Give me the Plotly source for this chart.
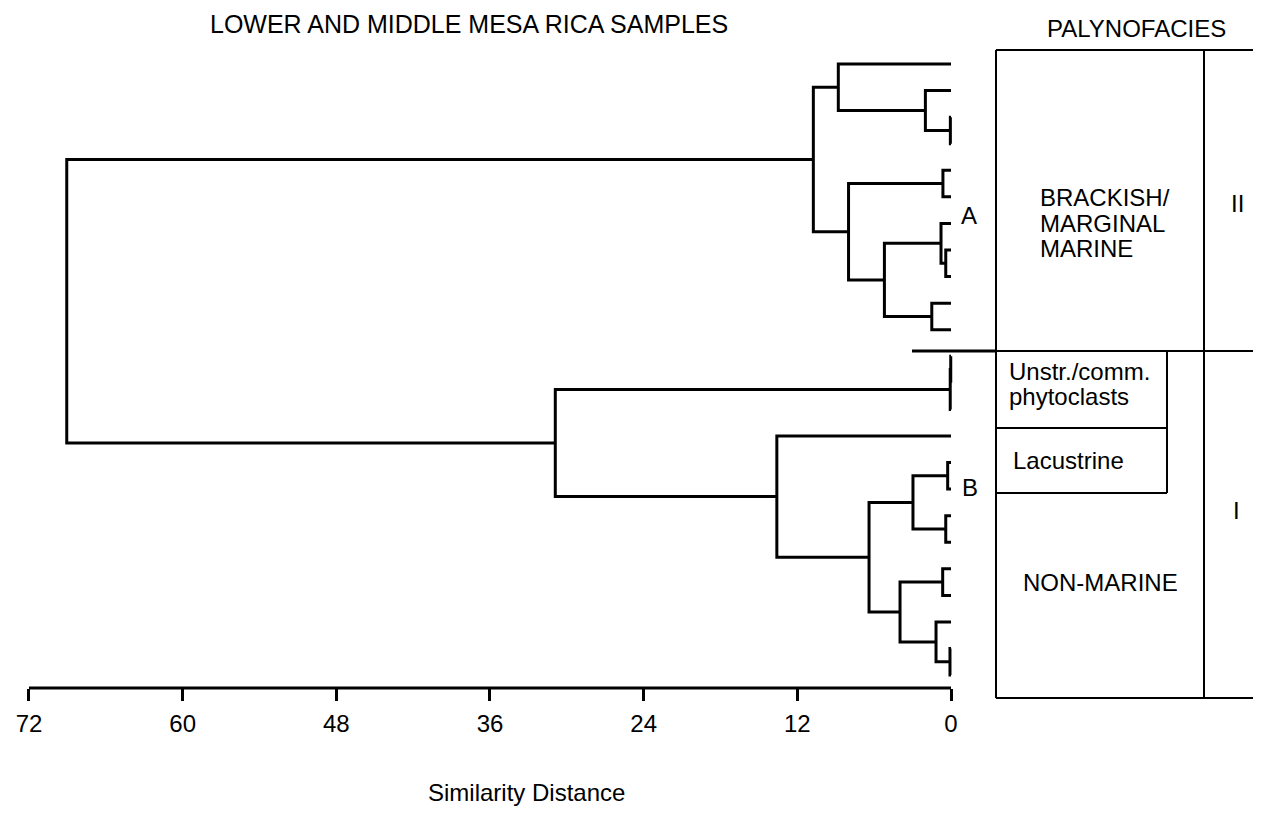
import plotly.graph_objects as go

# ---------------- data ----------------
# leaves of the dendrogram, top to bottom
samples = [f"MR-{i + 1:02d}" for i in range(24)]

# agglomeration steps (children: "L<i>" = leaf i, "M<k>" = k-th merge), height = similarity distance
merge_left = ["L2", "L1", "L0", "L4", "L7", "L6", "L9", "M6", "M4", "M3",
              "L11", "M11", "L15", "L17", "M13", "L19", "L22", "L21", "M16", "M15",
              "L14", "M12", "M10"]
merge_right = ["L3", "M1", "M2", "L5", "L8", "M5", "L10", "M7", "M8", "M9",
               "L12", "L13", "L16", "L18", "M14", "L20", "L23", "M17", "M18", "M19",
               "M20", "M21", "M22"]
merge_height = [0.05, 2.0, 8.8, 0.63, 0.41, 0.78, 1.5, 5.2, 8.0, 10.75,
                0.02, 0.06, 0.26, 0.41, 2.97, 0.65, 0.08, 1.17, 3.98, 6.4,
                13.6, 30.9, 69.05]

tick_values = [72, 60, 48, 36, 24, 12, 0]
cluster_labels = ["A", "B"]
facies_names = [["BRACKISH/", "MARGINAL", "MARINE"],
                ["Unstr./comm.", "phytoclasts"],
                ["Lacustrine"],
                ["NON-MARINE"]]
facies_classes = ["II", "I"]

# ---------------- geometry ----------------
OFF = 8                                       # page body margin of the html
W, H = 1261, 816 - OFF
X0_PX, PX_PER_UNIT = 951.0 - OFF, 12.806      # pixel of distance 0, pixels per unit
Y0_PX, PX_PER_LEAF = 64.0 - OFF, 26.57        # pixel of first leaf, pixels per leaf
AXIS_PX = 688.0 - OFF
FONT = "Liberation Sans, Arial, sans-serif"

x_range = [X0_PX / PX_PER_UNIT, (X0_PX - W) / PX_PER_UNIT]
y_range = [(H - Y0_PX) / PX_PER_LEAF, -Y0_PX / PX_PER_LEAF]


def px(x, y):
    """reference-image pixel -> paper fraction"""
    return (x - OFF) / W, 1 - (y - OFF) / H


# ---------------- dendrogram ----------------
pos = {f"L{i}": (float(i), 0.0) for i in range(len(samples))}
xs, ys = [], []
for k, (a, b, h) in enumerate(zip(merge_left, merge_right, merge_height)):
    ya, ha = pos[a]
    yb, hb = pos[b]
    xs += [ha, h, h, hb, None]
    ys += [ya, ya, yb, yb, None]
    pos[f"M{k + 1}"] = ((ya + yb) / 2, h)

fig = go.Figure()
fig.add_trace(go.Scatter(x=xs, y=ys, mode="lines",
                         line=dict(color="black", width=3),
                         hoverinfo="skip", showlegend=False))

# ---------------- shapes ----------------
shapes = []


def seg(x0, y0, x1, y1, w=2):
    a0, b0 = px(x0, y0)
    a1, b1 = px(x1, y1)
    shapes.append(dict(type="line", xref="paper", yref="paper",
                       x0=a0, y0=b0, x1=a1, y1=b1,
                       line=dict(color="black", width=w)))


# axis baseline on the data scale
shapes.append(dict(type="line", xref="x", yref="paper",
                   x0=tick_values[0], x1=tick_values[-1],
                   y0=1 - AXIS_PX / H, y1=1 - AXIS_PX / H,
                   line=dict(color="black", width=3)))

# palynofacies panel
seg(996, 50, 996, 698)
seg(1204, 50, 1204, 698)
seg(996, 50, 1269, 50)
seg(996, 698, 1269, 698)
seg(912, 351, 996, 351, 3)
seg(996, 351, 1269, 351)
seg(1167, 351, 1167, 493)
seg(996, 428, 1167, 428)
seg(996, 493, 1167, 493)

# ---------------- annotations ----------------
ann = []


def text(t, x, y, size=24, xanchor="center"):
    a, b = px(x, y)
    ann.append(dict(text=t, x=a, y=b, xref="paper", yref="paper",
                    xanchor=xanchor, yanchor="middle", showarrow=False,
                    font=dict(family=FONT, size=size, color="black")))


text("LOWER AND MIDDLE MESA RICA SAMPLES", 469, 24, size=25)
text("PALYNOFACIES", 1136, 28)
text("Similarity Distance", 526, 792)

for lab, (x, y) in zip(cluster_labels, [(969, 215), (970, 487)]):
    text(lab, x, y)

facies_pos = [(1038, [197, 223, 249]), (1007, [372, 396]), (1011, [460]), (1021, [582])]
for lines, (x, ylist) in zip(facies_names, facies_pos):
    for t, y in zip(lines, ylist):
        text(t, x, y, xanchor="left")

for lab, (x, y) in zip(facies_classes, [(1237, 203), (1236, 510)]):
    text(lab, x, y)

fig.update_layout(
    width=W, height=H,
    margin=dict(l=0, r=0, t=0, b=0),
    plot_bgcolor="white", paper_bgcolor="white",
    shapes=shapes, annotations=ann,
    xaxis=dict(range=x_range, anchor="free", position=1 - AXIS_PX / H,
               tickmode="array", tickvals=tick_values,
               ticktext=[str(v) for v in tick_values],
               ticks="outside", ticklen=12, tickwidth=3, tickcolor="black",
               showgrid=False, zeroline=False, showline=False,
               ticklabelstandoff=2,
               tickfont=dict(family=FONT, size=24, color="black")),
    yaxis=dict(range=y_range, visible=False, domain=[0, 1]),
)

fig.write_html("out.html")
